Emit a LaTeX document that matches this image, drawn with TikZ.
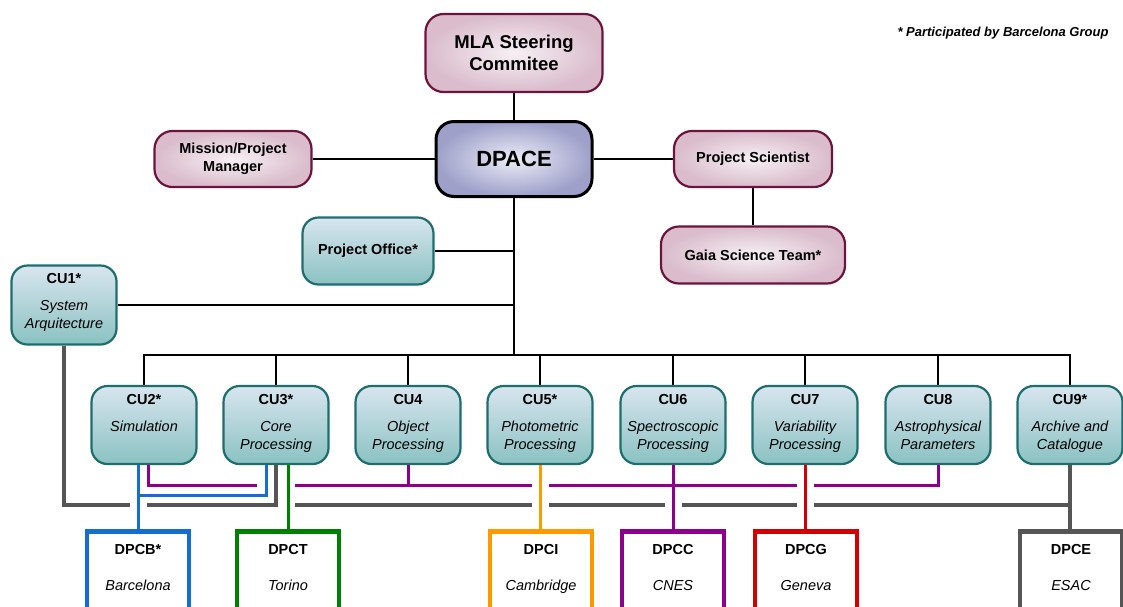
\documentclass[tikz,border=0pt]{standalone}
\usepackage{fontspec}
\setmainfont{Liberation Sans}
\usetikzlibrary{positioning,calc}

\definecolor{maroonline}{RGB}{110,20,60}
\definecolor{pinkedge}{RGB}{218,188,204}
\definecolor{pinkglow}{RGB}{246,240,244}
\definecolor{tealline}{RGB}{30,110,110}
\definecolor{tealtop}{RGB}{216,229,239}
\definecolor{tealbottom}{RGB}{138,194,194}
\definecolor{dpaceedge}{RGB}{158,160,202}
\definecolor{dpaceglow}{RGB}{236,237,246}
\definecolor{linkgray}{RGB}{85,85,85}
\definecolor{linkblue}{RGB}{20,110,210}
\definecolor{linkgreen}{RGB}{0,128,0}
\definecolor{linkorange}{RGB}{255,153,0}
\definecolor{linkpurple}{RGB}{140,0,140}
\definecolor{linkred}{RGB}{210,0,0}

\tikzset{
  boardbox/.style={draw=maroonline, line width=2.2pt, rounded corners=18pt,
    inner color=pinkglow, outer color=pinkedge, align=center,
    font=\bfseries\fontsize{14.5}{18}\selectfont},
  dpacebox/.style={draw=black, line width=3pt, rounded corners=18pt,
    inner color=dpaceglow, outer color=dpaceedge,
    font=\bfseries\fontsize{22}{26}\selectfont},
  unitbox/.style={draw=tealline, line width=2.2pt, rounded corners=16pt,
    top color=tealtop, bottom color=tealbottom},
  unittext/.style={anchor=north, inner sep=0pt, align=center,
    font=\itshape\fontsize{14.5}{18}\selectfont},
  dpcbox/.style={draw=#1, line width=4.5pt, fill=white, anchor=north,
    minimum width=102pt, minimum height=120pt},
  trunk/.style={draw=black, line width=2.4pt},
  unitlink/.style={draw=#1, line width=3pt},
  grayrail/.style={draw=linkgray, line width=3.2pt},
}

\begin{document}
\begin{tikzpicture}[x=1pt,y=-1pt]
\useasboundingbox (0,0) rectangle (1123,606);
\clip (0,0) rectangle (1123,606);

% top level boards
\node[boardbox, minimum width=177pt, minimum height=78pt,
  font=\bfseries\fontsize{18.5}{22}\selectfont] (mla) at (514,53) {MLA Steering\\Commitee};
\node[dpacebox, minimum width=156pt, minimum height=75pt] (dpace) at (514,159) {DPACE};
\node[boardbox, minimum width=157pt, minimum height=56pt] (manager) at (233,159) {Mission/Project\\Manager};
\node[boardbox, minimum width=158pt, minimum height=56pt] (scientist) at (753,159) {Project Scientist};
\node[boardbox, minimum width=184pt, minimum height=57pt] (gaia) at (753,255) {Gaia Science Team*};
\node[unitbox, minimum width=131pt, minimum height=67pt,
  font=\bfseries\fontsize{14.5}{18}\selectfont] (office) at (368,251) {Project Office*};
\node[font=\bfseries\itshape\fontsize{13}{16}\selectfont] (note) at (1003,33)
  {* Participated by Barcelona Group};

% coordination units
\node[unitbox, minimum width=105pt, minimum height=79pt] (cu1) at (64,305) {};
\node[unittext] (cu1-text) at ([yshift=-9pt]cu1.north) {\textbf{\upshape CU1*}\\[9pt]System\\Arquitecture};
\foreach \name/\x/\title/\sub in {cu2/144/CU2*/Simulation, cu3/276/CU3*/Core\\Processing,
  cu4/408/CU4/Object\\Processing, cu5/540/CU5*/Photometric\\Processing,
  cu6/673/CU6/Spectroscopic\\Processing, cu7/805/CU7/Variability\\Processing,
  cu8/938/CU8/Astrophysical\\Parameters, cu9/1070/CU9*/Archive and\\Catalogue}
{
  \node[unitbox, minimum width=105pt, minimum height=78pt] (\name) at (\x,425) {};
  \node[unittext] (\name-text) at ([yshift=-9pt]\name.north) {\textbf{\upshape\title}\\[9pt]\sub};
}

% data processing centres
\foreach \name/\x/\col/\title/\sub in {dpcb/138/linkblue/DPCB*/Barcelona,
  dpct/288/linkgreen/DPCT/Torino, dpci/541/linkorange/DPCI/Cambridge,
  dpcc/673/linkpurple/DPCC/CNES, dpcg/806/linkred/DPCG/Geneva,
  dpce/1071/linkgray/DPCE/ESAC}
{
  \node[dpcbox=\col] (\name) at (\x,529) {};
  \node[unittext] (\name-text) at ([yshift=-15pt]\name.north) {\textbf{\upshape\title}\\[18pt]\sub};
}

% management tree
\coordinate (hub) at (514,355);
\draw[trunk] (mla) -- (dpace);
\draw[trunk] (manager) -- (dpace);
\draw[trunk] (dpace) -- (scientist);
\draw[trunk] (scientist) -- (gaia);
\draw[trunk] (dpace) -- (hub);
\draw[trunk] (office) -- (office -| hub);
\draw[trunk] (cu1) -- (cu1 -| hub);
\draw[trunk] (cu2) |- (hub) -| (cu9);
\foreach \n in {cu3,cu4,cu5,cu6,cu7,cu8}
  \draw[trunk] (\n) -- (\n |- hub);

% links to the centres
\coordinate (purplerail) at (0,485);
\coordinate (bluerail) at (0,495);
\coordinate (grayrail) at (0,505);
% gray: CU1, CU3, CU9 to DPCE
\draw[grayrail] (cu1.south) |- ($(dpcb.north |- grayrail)+(-8,0)$);
\draw[grayrail] ($(dpcb.north |- grayrail)+(9,0)$) -| (cu3.south);
\draw[grayrail] ($(dpct.north |- grayrail)+(7,0)$) -- ($(cu5.south |- grayrail)+(-8,0)$);
\draw[grayrail] ($(cu5.south |- grayrail)+(9,0)$) -- ($(dpcc.north |- grayrail)+(-8,0)$);
\draw[grayrail] ($(dpcc.north |- grayrail)+(9,0)$) -- ($(cu7.south |- grayrail)+(-8,0)$);
\draw[grayrail] ($(cu7.south |- grayrail)+(9,0)$) -| (cu9.south);
\draw[grayrail] (cu9.south) -- (cu9.south |- dpce.north);
% purple: CU2, CU4, CU6, CU8 to DPCC
\draw[unitlink=linkpurple] ([xshift=4pt]cu2.south) |- ($(cu3.south |- purplerail)+(-19,0)$);
\draw[unitlink=linkpurple] ($(dpct.north |- purplerail)+(7,0)$) -- ($(cu5.south |- purplerail)+(-8,0)$);
\draw[unitlink=linkpurple] ($(cu5.south |- purplerail)+(9,0)$) -- ($(cu7.south |- purplerail)+(-8,0)$);
\draw[unitlink=linkpurple] ($(cu7.south |- purplerail)+(9,0)$) -| (cu8.south);
\draw[unitlink=linkpurple] (cu4.south) -- (cu4.south |- purplerail);
\draw[unitlink=linkpurple] (cu6.south) -- (dpcc.north);
% blue: CU2, CU3 to DPCB
\draw[unitlink=linkblue] (dpcb.north |- cu2.south) -- (dpcb.north);
\draw[unitlink=linkblue] (dpcb.north |- bluerail) -| ([xshift=-10pt]cu3.south);
% single links
\draw[unitlink=linkgreen] (dpct.north |- cu3.south) -- (dpct.north);
\draw[unitlink=linkorange] (cu5.south) -- (cu5.south |- dpci.north);
\draw[unitlink=linkred] (cu7.south) -- (cu7.south |- dpcg.north);
\end{tikzpicture}
\end{document}
